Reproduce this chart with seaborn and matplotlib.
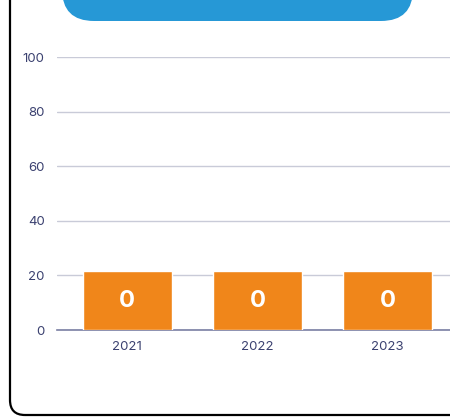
import matplotlib
matplotlib.use("Agg")
import matplotlib.pyplot as plt
import seaborn as sns
import pandas as pd
from matplotlib.patches import FancyBboxPatch

# === Données ===
years = ["2021", "2022", "2023"]
bar_heights = [21.5, 21.5, 21.5]
bar_labels = ["0", "0", "0"]
y_ticks = [0, 20, 40, 60, 80, 100]

df = pd.DataFrame({"Annee": years, "Valeur": bar_heights})

sns.set_theme(style="white")
plt.rcParams["font.family"] = ["Inter", "DejaVu Sans"]

W, H = 450, 419
fig = plt.figure(figsize=(W / 100, H / 100), dpi=100)
inch = fig.dpi_scale_trans

# cadre arrondi noir (coordonnées en pouces)
frame = FancyBboxPatch((0.10, 0.04), 6.0, 6.0,
                       boxstyle="round,pad=0,rounding_size=0.15",
                       transform=inch, fill=False,
                       edgecolor="black", linewidth=1.6, zorder=0)
fig.patches.append(frame)

# bandeau bleu en haut
banner = FancyBboxPatch((0.62, (H - 21) / 100), 3.51, 0.8,
                        boxstyle="round,pad=0,rounding_size=0.32",
                        transform=inch, facecolor="#2698d6",
                        edgecolor="none", zorder=1)
fig.patches.append(banner)

ax = fig.add_axes([57 / W, (H - 330) / H, (W - 57) / W, 273 / H])
sns.barplot(data=df, x="Annee", y="Valeur", color="#f0861a",
            saturation=1, width=0.68, ax=ax, zorder=3)

for i, lab in enumerate(bar_labels):
    ax.text(i, bar_heights[i] / 2, lab, ha="center", va="center",
            color="white", fontsize=17, fontweight="bold", zorder=4)

ax.set_xlim(-0.54, 2.48)
ax.set_ylim(0, 100)
ax.set_yticks(y_ticks)
ax.yaxis.grid(True, color="#c9cbd8", linewidth=1, zorder=0)
ax.set_axisbelow(True)
for s in ["top", "right", "left"]:
    ax.spines[s].set_visible(False)
ax.spines["bottom"].set_color("#7a7fa3")
ax.spines["bottom"].set_linewidth(1.2)
ax.set_xlabel("")
ax.set_ylabel("")
ax.tick_params(axis="both", length=0, labelsize=9.5, colors="#3b4170")
ax.tick_params(axis="y", pad=9)
ax.tick_params(axis="x", pad=8)
ax.patch.set_alpha(0)

plt.savefig("out.png", dpi=100)
plt.close()
